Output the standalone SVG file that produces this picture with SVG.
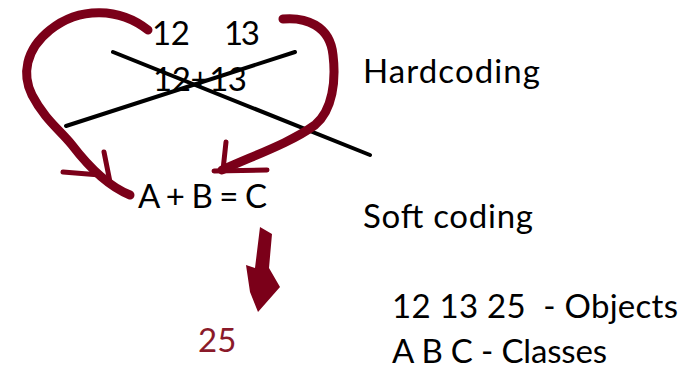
<svg xmlns="http://www.w3.org/2000/svg" width="687" height="371" viewBox="0 0 687 371">
<style>
.t{font-family:Lato,"Open Sans","Liberation Sans",sans-serif;font-size:33px;fill:#000;white-space:pre}
.red{fill:#8a1a2a}
.ink{fill:none;stroke:#7b0019;stroke-linecap:round;stroke-linejoin:round}
.x{fill:none;stroke:#000;stroke-width:4;stroke-linecap:round}
</style>
<rect width="687" height="371" fill="#fff"/>
<g id="connectors">
<path class="x" d="M113,52 L370,155"/>
<path class="x" d="M66,126 L295,52"/>
<path class="ink" stroke-width="9" d="M148,30 C120,8 80,6 50,30 C25,50 22,75 32,95 C45,120 60,130 72,145 C85,162 105,185 130,195"/>
<path class="ink" stroke-width="5" d="M63,172 L100,175 M104,152 L110,182"/>
<path class="ink" stroke-width="9" d="M283,19 C305,17 330,25 333,55 C336,80 333,110 315,125 C290,143 255,155 222,170"/>
<path class="ink" stroke-width="5" d="M226,142 L223,170 M214,171 L267,170"/>
<path fill="#7b0019" d="M260,227 L272,234 L269,268 L280,287 L258,312 L250,292 L246,265 L255,268 Z"/>
</g>
<g id="n12"><text class="t" x="152" y="45" textLength="38">12</text></g>
<g id="n13"><text class="t" x="224" y="45" textLength="36">13</text></g>
<g id="sum"><text class="t" x="153" y="91" textLength="94">12+13</text></g>
<g id="abc"><text class="t" x="138" y="208" textLength="129">A + B = C</text></g>
<g id="n25"><text class="t red" x="198" y="352">25</text></g>
<g id="hard"><text class="t" x="363" y="83" textLength="177">Hardcoding</text></g>
<g id="soft"><text class="t" x="363" y="228" textLength="170">Soft coding</text></g>
<g id="obj"><text class="t" x="392" y="318" textLength="286">12 13 25  - Objects</text></g>
<g id="cls"><text class="t" x="392" y="363" textLength="215">A B C - Classes</text></g>
</svg>
